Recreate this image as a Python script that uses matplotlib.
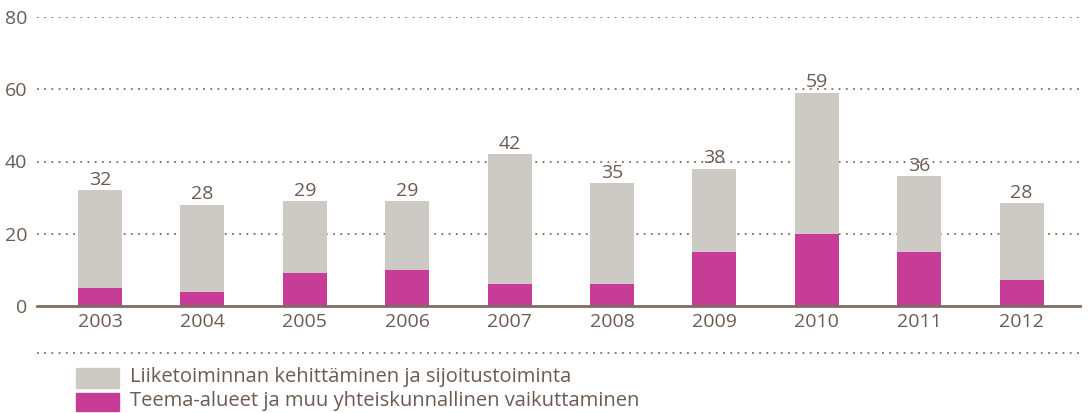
import matplotlib.pyplot as plt
from matplotlib.patches import Rectangle
from matplotlib.lines import Line2D

plt.rcParams['font.family'] = ['Open Sans', 'DejaVu Sans']

# data
years = ['2003', '2004', '2005', '2006', '2007', '2008', '2009', '2010', '2011', '2012']
teema = [5, 4, 9, 10, 6, 6, 15, 20, 15, 7.3]
liiketoiminta = [27, 24, 20, 19, 36, 28, 23, 39, 21, 21.2]
totals = [32, 28, 29, 29, 42, 35, 38, 59, 36, 28]

grey = '#cdc9c4'
pink = '#c63c96'
txt = '#6b5b52'

fig = plt.figure(figsize=(10.88, 4.13), dpi=100)
ax = fig.add_axes([37 / 1088, 1 - 306 / 413, 1043 / 1088, 289 / 413])

x = range(len(years))
ax.bar(x, teema, width=0.43, color=pink, zorder=3)
ax.bar(x, liiketoiminta, bottom=teema, width=0.43, color=grey, zorder=3)

for i, t in enumerate(totals):
    top = teema[i] + liiketoiminta[i]
    ax.text(i, top + 0.4, str(t), ha='center', va='bottom', fontsize=14, color=txt, zorder=5)

ax.set_xlim(-0.615, 9.57)
ax.set_ylim(0, 80)
ax.set_yticks([0, 20, 40, 60, 80])
ax.set_xticks(list(x))
ax.set_xticklabels(years)
ax.tick_params(axis='both', length=0, labelsize=14, labelcolor=txt)
ax.tick_params(axis='y', pad=7)
ax.tick_params(axis='x', pad=5)

for v in [20, 40, 60, 80]:
    ax.axhline(v, color='#7d6d64', lw=1.3, ls=(0, (1, 3)), zorder=1)

for s in ['top', 'right', 'left']:
    ax.spines[s].set_visible(False)
ax.spines['bottom'].set_color('#7d6d64')
ax.spines['bottom'].set_linewidth(2)
ax.spines['bottom'].set_zorder(4)

# dotted separator above legend
fig.add_artist(Line2D([37 / 1088, 1080 / 1088], [1 - 353 / 413] * 2,
                      color='#7d6d64', lw=1.3, ls=(0, (1, 3))))

# legend
fig.add_artist(Rectangle((76 / 1088, 1 - 388 / 413), 43 / 1088, 20 / 413,
                         color=grey, transform=fig.transFigure))
fig.add_artist(Rectangle((76 / 1088, 1 - 411 / 413), 43 / 1088, 18 / 413,
                         color=pink, transform=fig.transFigure))
fig.text(130 / 1088, 1 - 377 / 413, 'Liiketoiminnan kehittäminen ja sijoitustoiminta',
         va='center', fontsize=14.5, color=txt)
fig.text(130 / 1088, 1 - 401 / 413, 'Teema-alueet ja muu yhteiskunnallinen vaikuttaminen',
         va='center', fontsize=14.5, color=txt)

fig.savefig('out.png', dpi=100)
